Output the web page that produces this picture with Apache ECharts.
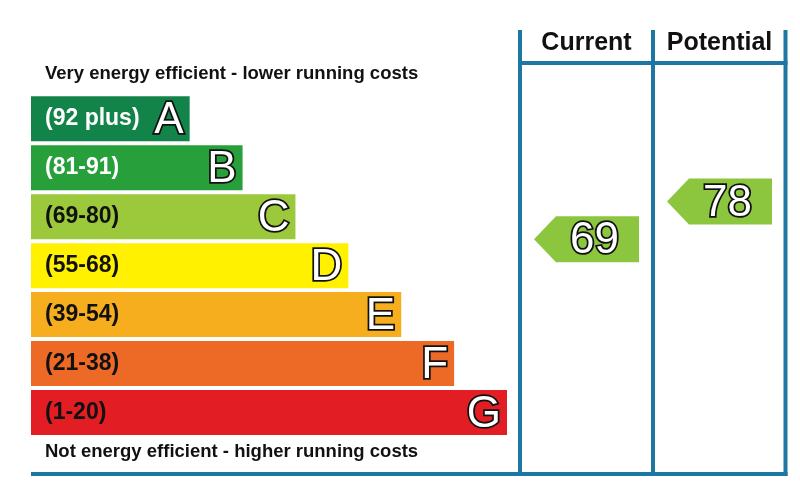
<!DOCTYPE html>
<html>
<head>
<meta charset="utf-8">
<script src="https://cdn.jsdelivr.net/npm/echarts@6/dist/echarts.min.js"></script>
<style>
  html, body { margin: 0; padding: 0; background: #fff; }
  #grafico { width: 800px; height: 485px; }
</style>
</head>
<body>
<div id="grafico"></div>
<script>
const bandas = ["A", "B", "C", "D", "E", "F", "G"];
const rangos = ["(92 plus)", "(81-91)", "(69-80)", "(55-68)", "(39-54)", "(21-38)", "(1-20)"];
const largos = [3, 4, 5, 6, 7, 8, 9];
const colores = ["#12844a", "#27a03c", "#9cc93b", "#fff100", "#f6ae1e", "#ec6a25", "#e31d24"];
const colorTextoRango = ["#ffffff", "#ffffff", "#111111", "#111111", "#111111", "#111111", "#111111"];

const columnas = ["Current", "Potential"];
const puntuaciones = [69, 78];

const AZUL = "#1c77a3";
const FUENTE = "'Liberation Sans', Arial, sans-serif";

const grafico = echarts.init(document.getElementById("grafico"));

const datosBarras = largos.map(function(v, i) {
    return {
        value: v,
        itemStyle: {color: colores[i]},
        label: {color: colorTextoRango[i]}
    };
});

const datosFlechas = columnas.map(function(c, i) {
    return [c, puntuaciones[i]];
});

function linea(x1, y1, x2, y2) {
    return {
        type: "line",
        shape: {x1: x1, y1: y1, x2: x2, y2: y2},
        style: {stroke: AZUL, lineWidth: 4}
    };
}

function texto(t, y) {
    return {
        type: "text", x: 45, y: y,
        style: {
            text: t, verticalAlign: "middle",
            fontSize: 18.5, fontWeight: "bold", fill: "#111", fontFamily: FUENTE
        }
    };
}

grafico.setOption({
    animation: false,
    textStyle: {fontFamily: FUENTE},
    grid: [
        {left: 31, top: 94.4, width: 476, height: 342.5},
        {left: 520, top: 109.3, width: 266, height: 335.2}
    ],
    xAxis: [
        {gridIndex: 0, type: "value", min: 0, max: 9, show: false},
        {
            gridIndex: 1, type: "category", data: columnas, position: "top",
            axisLine: {show: false}, axisTick: {show: false}, splitLine: {show: false},
            axisLabel: {
                interval: 0, margin: 66, verticalAlign: "middle",
                fontSize: 25, fontWeight: "bold", color: "#111", fontFamily: FUENTE
            }
        }
    ],
    yAxis: [
        {gridIndex: 0, type: "category", data: bandas, inverse: true, show: false},
        {gridIndex: 1, type: "value", min: 20, max: 100, show: false}
    ],
    series: [
        {
            type: "bar",
            xAxisIndex: 0, yAxisIndex: 0,
            barWidth: 45,
            data: datosBarras,
            label: {
                show: true,
                position: "insideLeft",
                distance: 14,
                formatter: function(p) { return rangos[p.dataIndex]; },
                fontSize: 23, fontWeight: "bold", fontFamily: FUENTE
            }
        },
        {
            type: "bar",
            xAxisIndex: 0, yAxisIndex: 0,
            barWidth: 45,
            barGap: "-100%",
            data: largos,
            itemStyle: {color: "rgba(0,0,0,0)"},
            label: {
                show: true,
                position: "insideRight",
                distance: 6,
                offset: [0, 2],
                formatter: function(p) { return bandas[p.dataIndex]; },
                fontSize: 44, color: "#fff",
                textBorderColor: "#111", textBorderWidth: 3.5,
                fontFamily: FUENTE
            }
        },
        {
            type: "scatter",
            xAxisIndex: 1, yAxisIndex: 1,
            data: datosFlechas,
            symbol: "path://M0,23 L22,0 L105,0 L105,46 L22,46 Z",
            symbolSize: [105, 46],
            itemStyle: {color: "#8cc63f", opacity: 1},
            label: {
                show: true,
                position: "inside",
                offset: [8, 2],
                formatter: function(p) { return p.value[1]; },
                fontSize: 44, color: "#fff",
                textBorderColor: "#111", textBorderWidth: 3.5,
                fontFamily: FUENTE
            }
        }
    ],
    graphic: [
        linea(520, 30, 520, 476),
        linea(653, 30, 653, 476),
        linea(785.5, 30, 785.5, 476),
        linea(518, 63, 787.5, 63),
        linea(31, 474, 787.5, 474),
        texto("Very energy efficient - lower running costs", 74),
        texto("Not energy efficient - higher running costs", 452)
    ]
});
</script>
</body>
</html>
